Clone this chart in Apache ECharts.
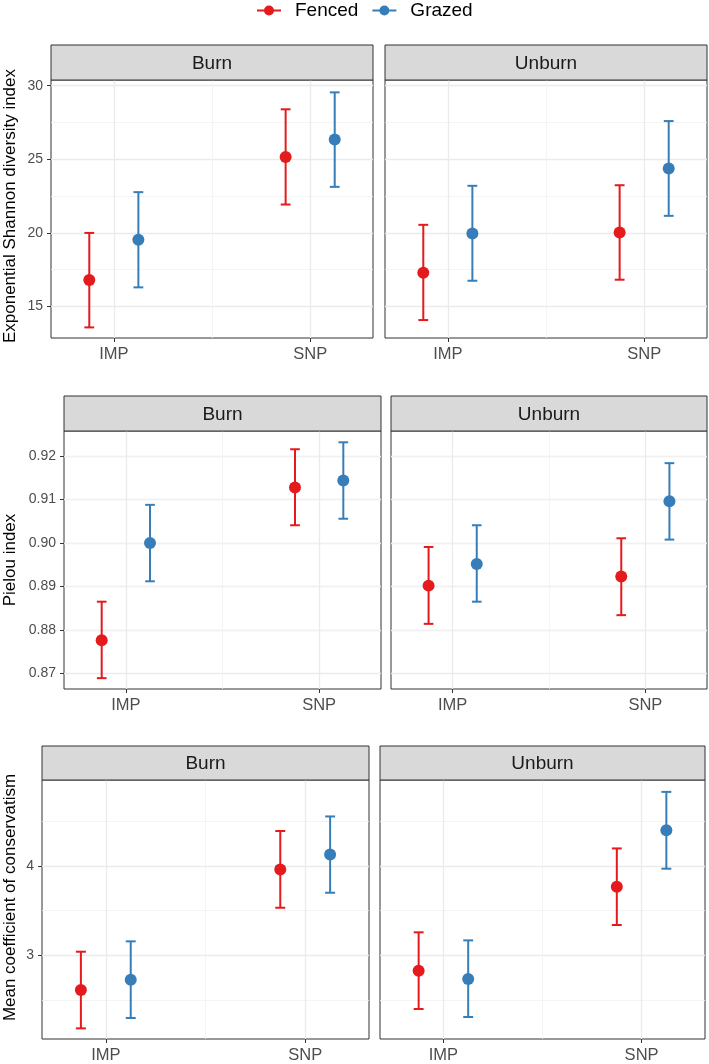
<!DOCTYPE html>
<html>
<head>
<meta charset="utf-8">
<script src="https://cdn.jsdelivr.net/npm/echarts@6/dist/echarts.min.js"></script>
<style>html,body{margin:0;padding:0;background:#fff;}#chart{width:709px;height:1064px;}</style>
</head>
<body>
<div id="chart"></div>
<script>
// ---------------- DATA ----------------
const categories = ['IMP', 'SNP'];
const panelNames = ['Burn', 'Unburn'];
const groupNames = ['Fenced', 'Grazed'];
const metricTitles = ['Exponential Shannon diversity index', 'Pielou index', 'Mean coefficient of conservatism'];

// Exponential Shannon diversity index
const shannonBurnFencedMean = [16.80, 25.16];
const shannonBurnFencedLow  = [13.58, 21.93];
const shannonBurnFencedHigh = [20.00, 28.40];
const shannonBurnGrazedMean = [19.53, 26.34];
const shannonBurnGrazedLow  = [16.30, 23.13];
const shannonBurnGrazedHigh = [22.77, 29.55];
const shannonUnburnFencedMean = [17.29, 20.03];
const shannonUnburnFencedLow  = [14.08, 16.82];
const shannonUnburnFencedHigh = [20.55, 23.24];
const shannonUnburnGrazedMean = [19.96, 24.37];
const shannonUnburnGrazedLow  = [16.75, 21.16];
const shannonUnburnGrazedHigh = [23.20, 27.60];

// Pielou index
const pielouBurnFencedMean = [0.8776, 0.9128];
const pielouBurnFencedLow  = [0.8689, 0.9041];
const pielouBurnFencedHigh = [0.8865, 0.9216];
const pielouBurnGrazedMean = [0.9000, 0.9144];
const pielouBurnGrazedLow  = [0.8912, 0.9056];
const pielouBurnGrazedHigh = [0.9088, 0.9232];
const pielouUnburnFencedMean = [0.8902, 0.8923];
const pielouUnburnFencedLow  = [0.8814, 0.8834];
const pielouUnburnFencedHigh = [0.8991, 0.9011];
const pielouUnburnGrazedMean = [0.8952, 0.9096];
const pielouUnburnGrazedLow  = [0.8865, 0.9008];
const pielouUnburnGrazedHigh = [0.9041, 0.9184];

// Mean coefficient of conservatism
const consBurnFencedMean = [2.613, 3.962];
const consBurnFencedLow  = [2.183, 3.533];
const consBurnFencedHigh = [3.041, 4.392];
const consBurnGrazedMean = [2.728, 4.130];
const consBurnGrazedLow  = [2.299, 3.701];
const consBurnGrazedHigh = [3.157, 4.555];
const consUnburnFencedMean = [2.829, 3.769];
const consUnburnFencedLow  = [2.400, 3.340];
const consUnburnFencedHigh = [3.258, 4.197];
const consUnburnGrazedMean = [2.736, 4.400];
const consUnburnGrazedLow  = [2.310, 3.970];
const consUnburnGrazedHigh = [3.168, 4.830];

// Tick labels / grid breaks
const shannonTicks = [15, 20, 25, 30];
const shannonMinor = [17.5, 22.5, 27.5];
const pielouTicks = [0.87, 0.88, 0.89, 0.90, 0.91, 0.92];
const pielouMinor = [0.875, 0.885, 0.895, 0.905, 0.915, 0.925];
const consTicks = [3, 4];
const consMinor = [2.5, 3.5, 4.5];
const xMinor = [1.5];

// ---------------- ASSEMBLY ----------------
const dataByRow = [
  [[ {mean: shannonBurnFencedMean, low: shannonBurnFencedLow, high: shannonBurnFencedHigh},
     {mean: shannonBurnGrazedMean, low: shannonBurnGrazedLow, high: shannonBurnGrazedHigh} ],
   [ {mean: shannonUnburnFencedMean, low: shannonUnburnFencedLow, high: shannonUnburnFencedHigh},
     {mean: shannonUnburnGrazedMean, low: shannonUnburnGrazedLow, high: shannonUnburnGrazedHigh} ]],
  [[ {mean: pielouBurnFencedMean, low: pielouBurnFencedLow, high: pielouBurnFencedHigh},
     {mean: pielouBurnGrazedMean, low: pielouBurnGrazedLow, high: pielouBurnGrazedHigh} ],
   [ {mean: pielouUnburnFencedMean, low: pielouUnburnFencedLow, high: pielouUnburnFencedHigh},
     {mean: pielouUnburnGrazedMean, low: pielouUnburnGrazedLow, high: pielouUnburnGrazedHigh} ]],
  [[ {mean: consBurnFencedMean, low: consBurnFencedLow, high: consBurnFencedHigh},
     {mean: consBurnGrazedMean, low: consBurnGrazedLow, high: consBurnGrazedHigh} ],
   [ {mean: consUnburnFencedMean, low: consUnburnFencedLow, high: consUnburnFencedHigh},
     {mean: consUnburnGrazedMean, low: consUnburnGrazedLow, high: consUnburnGrazedHigh} ]]
];
const rowTicks = [shannonTicks, pielouTicks, consTicks];
const rowMinor = [shannonMinor, pielouMinor, consMinor];
const rowFormat = [v => String(v), v => v.toFixed(2), v => String(v)];

// layout / style
const FONT = '"Liberation Sans", Arial, Helvetica, sans-serif';
const colors = ['#E41A1C', '#377EB8'];
const dodge = [-0.125, 0.125];
const capHalf = 0.025;
const rowLayout = [
  {stripTop: 45, top: 80, height: 258, panels: [{left: 51, width: 322}, {left: 385, width: 322}], nameGap: 32, namePad: 6, yMin: 12.86, yMax: 30.39},
  {stripTop: 396, top: 431, height: 258, panels: [{left: 64, width: 317}, {left: 391, width: 316}], nameGap: 45, namePad: 0, yMin: 0.8664, yMax: 0.9258},
  {stripTop: 746, top: 780, height: 259, panels: [{left: 42, width: 327}, {left: 380, width: 325}], nameGap: 23, namePad: 24, yMin: 2.064, yMax: 4.963}
];
const catPos = categories.map((c, i) => i + 1);

const grids = [], xAxes = [], yAxes = [], series = [], graphics = [];

function renderErr(params, api) {
  const x = api.value(0), lo = api.value(2), hi = api.value(3);
  const pLo = api.coord([x, lo]);
  const pHi = api.coord([x, hi]);
  const xl = api.coord([x - capHalf, lo])[0];
  const xr = api.coord([x + capHalf, lo])[0];
  const style = {stroke: api.visual('color'), lineWidth: 2, fill: null};
  return {
    type: 'group',
    children: [
      {type: 'line', shape: {x1: pLo[0], y1: pLo[1], x2: pHi[0], y2: pHi[1]}, style: style},
      {type: 'line', shape: {x1: xl, y1: pLo[1], x2: xr, y2: pLo[1]}, style: style},
      {type: 'line', shape: {x1: xl, y1: pHi[1], x2: xr, y2: pHi[1]}, style: style}
    ]
  };
}

rowLayout.forEach((row, r) => {
  row.panels.forEach((pan, p) => {
    const gi = r * 2 + p;
    grids.push({left: pan.left, top: row.top, width: pan.width, height: row.height,
      show: true, borderColor: '#333333', borderWidth: 1, backgroundColor: '#ffffff'});
    xAxes.push({
      type: 'value', gridIndex: gi, min: 0.68, max: 2.32,
      axisLine: {show: false}, splitLine: {show: false},
      axisTick: {show: true, length: 4, customValues: catPos, lineStyle: {color: '#333333', width: 1}},
      axisLabel: {customValues: catPos, formatter: v => categories[Math.round(v) - 1],
        fontSize: 16.5, color: '#4D4D4D', margin: 8, fontFamily: FONT}
    });
    yAxes.push({
      type: 'value', gridIndex: gi, min: row.yMin, max: row.yMax,
      axisLine: {show: false}, splitLine: {show: false},
      axisTick: {show: p === 0, length: 4, customValues: rowTicks[r], lineStyle: {color: '#333333', width: 1}},
      axisLabel: {show: p === 0, customValues: rowTicks[r], formatter: rowFormat[r],
        fontSize: 14, color: '#4D4D4D', margin: 8, fontFamily: FONT},
      name: p === 0 ? metricTitles[r] : '', nameLocation: 'middle', nameGap: row.nameGap,
      nameTextStyle: {fontSize: 17, color: '#000000', fontFamily: FONT, padding: [0, 0, 0, row.namePad]}
    });
    // grid lines
    const gl = [];
    rowTicks[r].forEach(v => gl.push({yAxis: v, lineStyle: {color: '#EBEBEB', width: 1.3, type: 'solid'}}));
    rowMinor[r].forEach(v => gl.push({yAxis: v, lineStyle: {color: '#F1F1F1', width: 0.8, type: 'solid'}}));
    catPos.forEach(v => gl.push({xAxis: v, lineStyle: {color: '#EBEBEB', width: 1.3, type: 'solid'}}));
    xMinor.forEach(v => gl.push({xAxis: v, lineStyle: {color: '#F1F1F1', width: 0.8, type: 'solid'}}));
    series.push({
      type: 'line', name: '_grid' + gi, xAxisIndex: gi, yAxisIndex: gi, data: [], z: 1, silent: true,
      markLine: {z: 1, silent: true, symbol: ['none', 'none'], label: {show: false}, animation: false,
        emphasis: {disabled: true}, data: gl}
    });
    // error bars and points
    groupNames.forEach((g, k) => {
      const d = dataByRow[r][p][k];
      series.push({
        type: 'custom', name: g + ' CI', xAxisIndex: gi, yAxisIndex: gi, z: 3, silent: true,
        itemStyle: {color: colors[k]},
        renderItem: renderErr,
        encode: {x: 0, y: 1},
        data: categories.map((c, i) => [i + 1 + dodge[k], d.mean[i], d.low[i], d.high[i]])
      });
    });
    groupNames.forEach((g, k) => {
      const d = dataByRow[r][p][k];
      series.push({
        type: 'scatter', name: g, xAxisIndex: gi, yAxisIndex: gi, z: 4, silent: true,
        symbol: 'circle', symbolSize: 12,
        itemStyle: {color: colors[k], opacity: 1},
        data: categories.map((c, i) => [i + 1 + dodge[k], d.mean[i]])
      });
    });
    // strip
    graphics.push({type: 'rect', z: 10,
      shape: {x: pan.left, y: row.stripTop, width: pan.width, height: row.top - row.stripTop},
      style: {fill: '#D9D9D9', stroke: '#333333', lineWidth: 1}});
    graphics.push({type: 'text', z: 11,
      x: pan.left + pan.width / 2, y: row.stripTop + (row.top - row.stripTop) / 2 + 1,
      style: {text: panelNames[p], fill: '#1A1A1A', font: '19px ' + FONT, align: 'center', verticalAlign: 'middle'}});
  });
});

const iconPath = 'path://M0,4 L24,4 L24,6 L0,6 Z M7,5 A5,5 0 1 1 17,5 A5,5 0 1 1 7,5 Z';

const option = {
  animation: false,
  backgroundColor: '#ffffff',
  legend: {
    data: groupNames.map(n => ({name: n, icon: iconPath})),
    left: 252, top: -4, itemWidth: 24, itemHeight: 10, itemGap: 14, selectedMode: false,
    textStyle: {fontSize: 19, color: '#000000', fontFamily: FONT, padding: [0, 0, 0, 9]}
  },
  grid: grids,
  xAxis: xAxes,
  yAxis: yAxes,
  series: series,
  graphic: graphics
};

const chart = echarts.init(document.getElementById('chart'), null, {renderer: 'canvas'});
chart.setOption(option);
</script>
</body>
</html>
